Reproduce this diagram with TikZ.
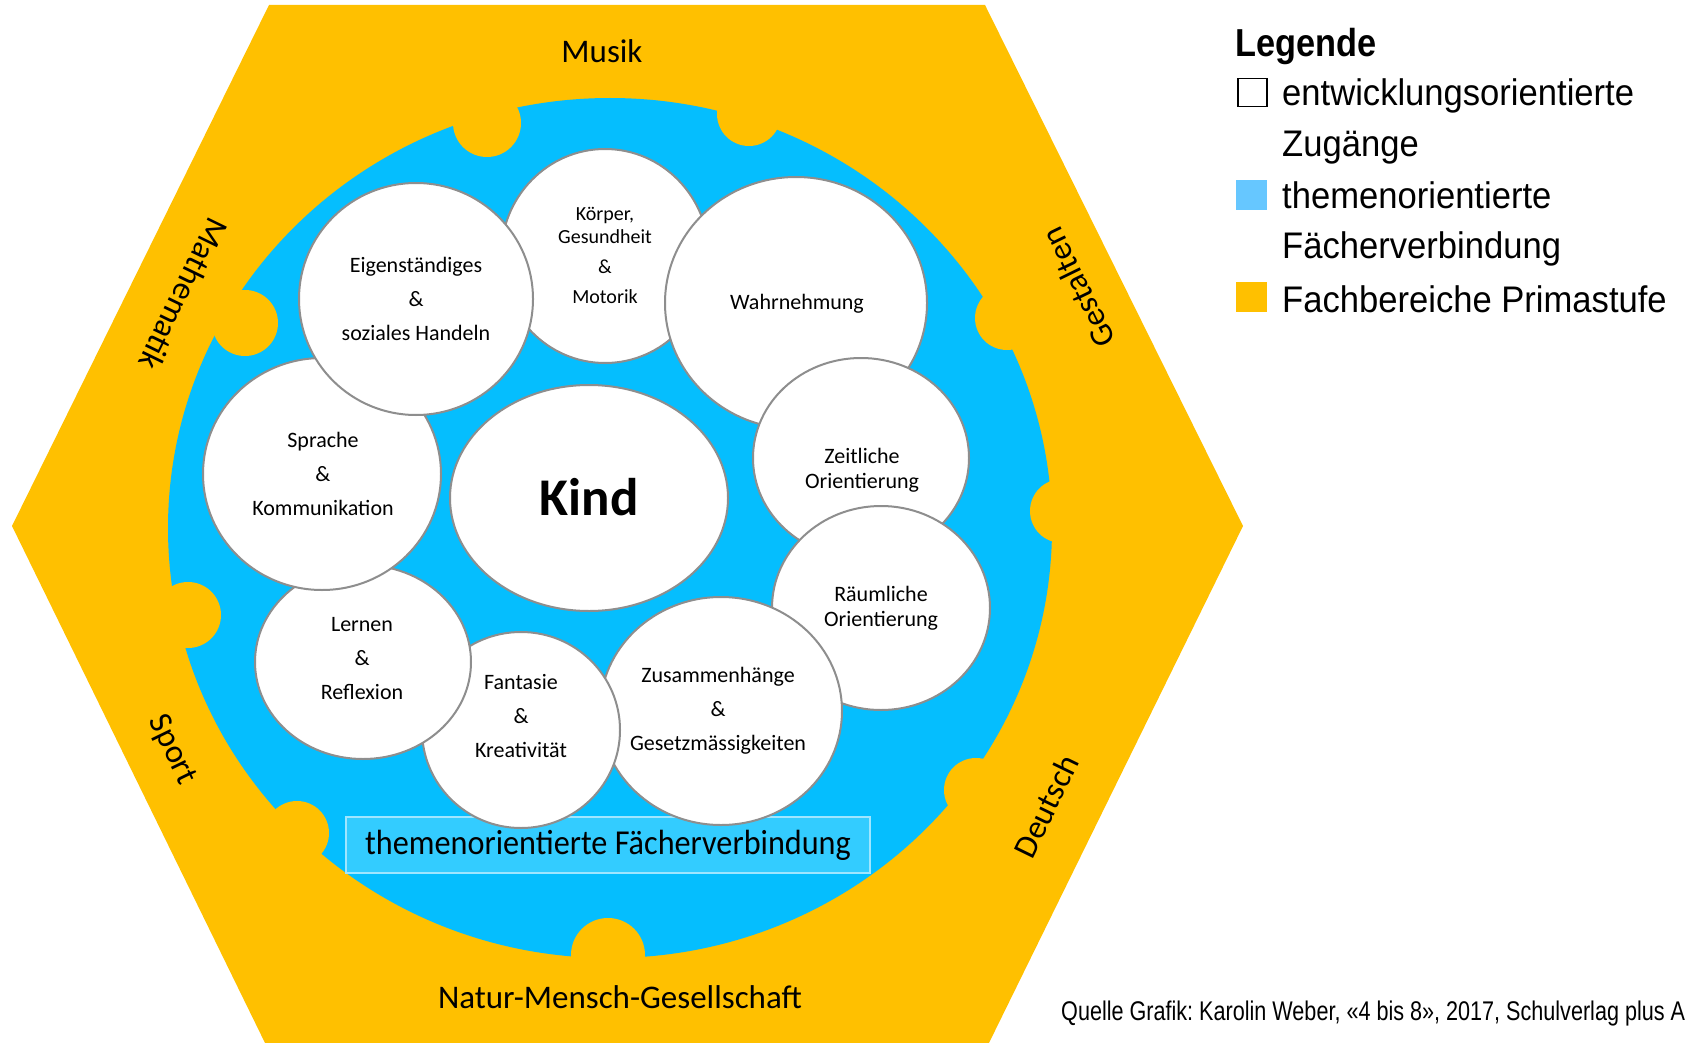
\documentclass[tikz,border=0pt]{standalone}
\usepackage{fontspec}
\setmainfont{Carlito}
\newfontfamily\arialf{Liberation Sans}
\usetikzlibrary{shapes.geometric}
\definecolor{hexorange}{HTML}{FFC000}
\definecolor{ringblue}{HTML}{05BEFE}
\definecolor{boxblue}{HTML}{33CCFF}
\definecolor{boxline}{HTML}{9FE6FF}
\definecolor{legblue}{HTML}{66C7FF}
\definecolor{rimgray}{HTML}{8E8E8E}
\tikzset{
  bubble/.style={ellipse, draw=rimgray, line width=2pt, fill=white, inner sep=0pt},
  btext/.style={align=center, inner sep=0pt, font=\fontsize{22}{34}\selectfont},
  subj/.style={inner sep=0pt, font=\fontsize{33}{40}\selectfont},
  legtext/.style={anchor=base west, inner sep=0pt, font=\arialf\fontsize{37}{44}\selectfont},
  legbox/.style={minimum width=31pt, minimum height=30pt, inner sep=0pt, anchor=north west},
}
\frenchspacing
\begin{document}
\begin{tikzpicture}[x=1pt,y=-1pt]
\useasboundingbox (0,0) rectangle (1686,1043);
\fill[white] (0,0) rectangle (1686,1043);
% hexagon
\fill[hexorange] (269,5) -- (985,5) -- (1243,526) -- (987,1047) -- (267,1047) -- (12,526) -- cycle;
% blue ring area
\fill[ringblue] (610,528) ellipse [x radius=442, y radius=430];
% puzzle knobs
\fill[hexorange] (487,123) circle [radius=34];
\fill[hexorange] (749,114) circle [radius=32];
\fill[hexorange] (1007,318) circle [radius=32];
\fill[hexorange] (1062,511) circle [radius=32];
\fill[hexorange] (976,790) circle [radius=32];
\fill[hexorange] (608,955) circle [radius=37];
\fill[hexorange] (297,833) circle [radius=32];
\fill[hexorange] (188,615) circle [radius=33];
\fill[hexorange] (245,323) circle [radius=33];
% subject labels
\node[subj] (musik) at (602,51) {Musik};
\node[subj] (nmg) at (620,997) {Natur-Mensch-Gesellschaft};
\node[subj, rotate=-116] (mathe) at (184,294) {Mathematik};
\node[subj, rotate=-64] (sport) at (172,750) {Sport};
\node[subj, rotate=116] (gest) at (1078,288) {Gestalten};
\node[subj, rotate=64] (deutsch) at (1046,806) {Deutsch};
% theme box
\node[draw=boxline, fill=boxblue, line width=1.5pt, minimum width=524pt, minimum height=56pt, inner sep=0pt,
      font=\fontsize{35}{40}\selectfont] (tfbox) at (608,845) {\scalebox{0.92}[1]{themenorientierte Fächerverbindung}};
% bubbles (drawing order gives the overlaps)
\node[bubble, minimum width=208pt, minimum height=214pt] (koer) at (605,256) {};
\node[bubble, minimum width=262pt, minimum height=252pt] (wahr) at (796,303) {};
\node[bubble, minimum width=216pt, minimum height=200pt] (zeit) at (861,458) {};
\node[bubble, minimum width=218pt, minimum height=204pt] (raeum) at (881,608) {};
\node[bubble, minimum width=242pt, minimum height=228pt] (zus) at (721,711) {};
\node[bubble, minimum width=198pt, minimum height=196pt] (fant) at (521,730) {};
\node[bubble, minimum width=216pt, minimum height=194pt] (lern) at (363,662) {};
\node[bubble, minimum width=238pt, minimum height=232pt] (spra) at (322,474) {};
\node[bubble, minimum width=234pt, minimum height=232pt] (eig) at (416,299) {};
\node[bubble, minimum width=278pt, minimum height=226pt] (kind) at (589,498) {};
% bubble texts
\node[btext, font=\fontsize{20}{23}\selectfont] (koerT) at (605,255) {Körper,\\Gesundheit\\[7pt]\&\\[7pt]Motorik};
\node[btext] (wahrT) at (797,304) {Wahrnehmung};
\node[btext, font=\fontsize{22}{25}\selectfont] (zeitT) at (862,470) {Zeitliche\\Orientierung};
\node[btext, font=\fontsize{22}{25}\selectfont] (raeumT) at (881,608) {Räumliche\\Orientierung};
\node[btext] (zusT) at (718,711) {Zusammenhänge\\\&\\Gesetzmässigkeiten};
\node[btext] (fantT) at (521,716) {Fantasie\\\&\\Kreativität};
\node[btext] (lernT) at (362,659) {Lernen\\\&\\Reflexion};
\node[btext] (spraT) at (323,474) {Sprache\\\&\\Kommunikation};
\node[btext] (eigT) at (416,299) {Eigenständiges\\\&\\soziales Handeln};
\node[inner sep=0pt, font=\bfseries\fontsize{53}{60}\selectfont] (kindT) at (589,497) {Kind};
% legend
\node[anchor=base west, inner sep=0pt, font=\arialf\bfseries\fontsize{39}{44}\selectfont] (leg) at (1235,57) {\scalebox{0.88}[1]{Legende}};
\node[legbox, draw=black, line width=1.5pt, minimum width=29pt, minimum height=28pt] (lb1) at (1237,78) {};
\node[legtext] (l1a) at (1282,106) {\scalebox{0.935}[1]{entwicklungsorientierte}};
\node[legtext] (l1b) at (1282,157) {\scalebox{0.935}[1]{Zugänge}};
\node[legbox, fill=legblue] (lb2) at (1236,180) {};
\node[legtext] (l2a) at (1282,208) {\scalebox{0.935}[1]{themenorientierte}};
\node[legtext] (l2b) at (1282,258) {\scalebox{0.935}[1]{Fächerverbindung}};
\node[legbox, fill=hexorange] (lb3) at (1236,282) {};
\node[legtext] (l3a) at (1282,312) {\scalebox{0.935}[1]{Fachbereiche Primastufe}};
% source
\node[anchor=base west, inner sep=0pt, font=\arialf\fontsize{27}{30}\selectfont] (src) at (1061,1020) {\scalebox{0.8}[1]{Quelle Grafik: Karolin Weber, «4 bis 8», 2017, Schulverlag plus A}};
\end{tikzpicture}
\end{document}
